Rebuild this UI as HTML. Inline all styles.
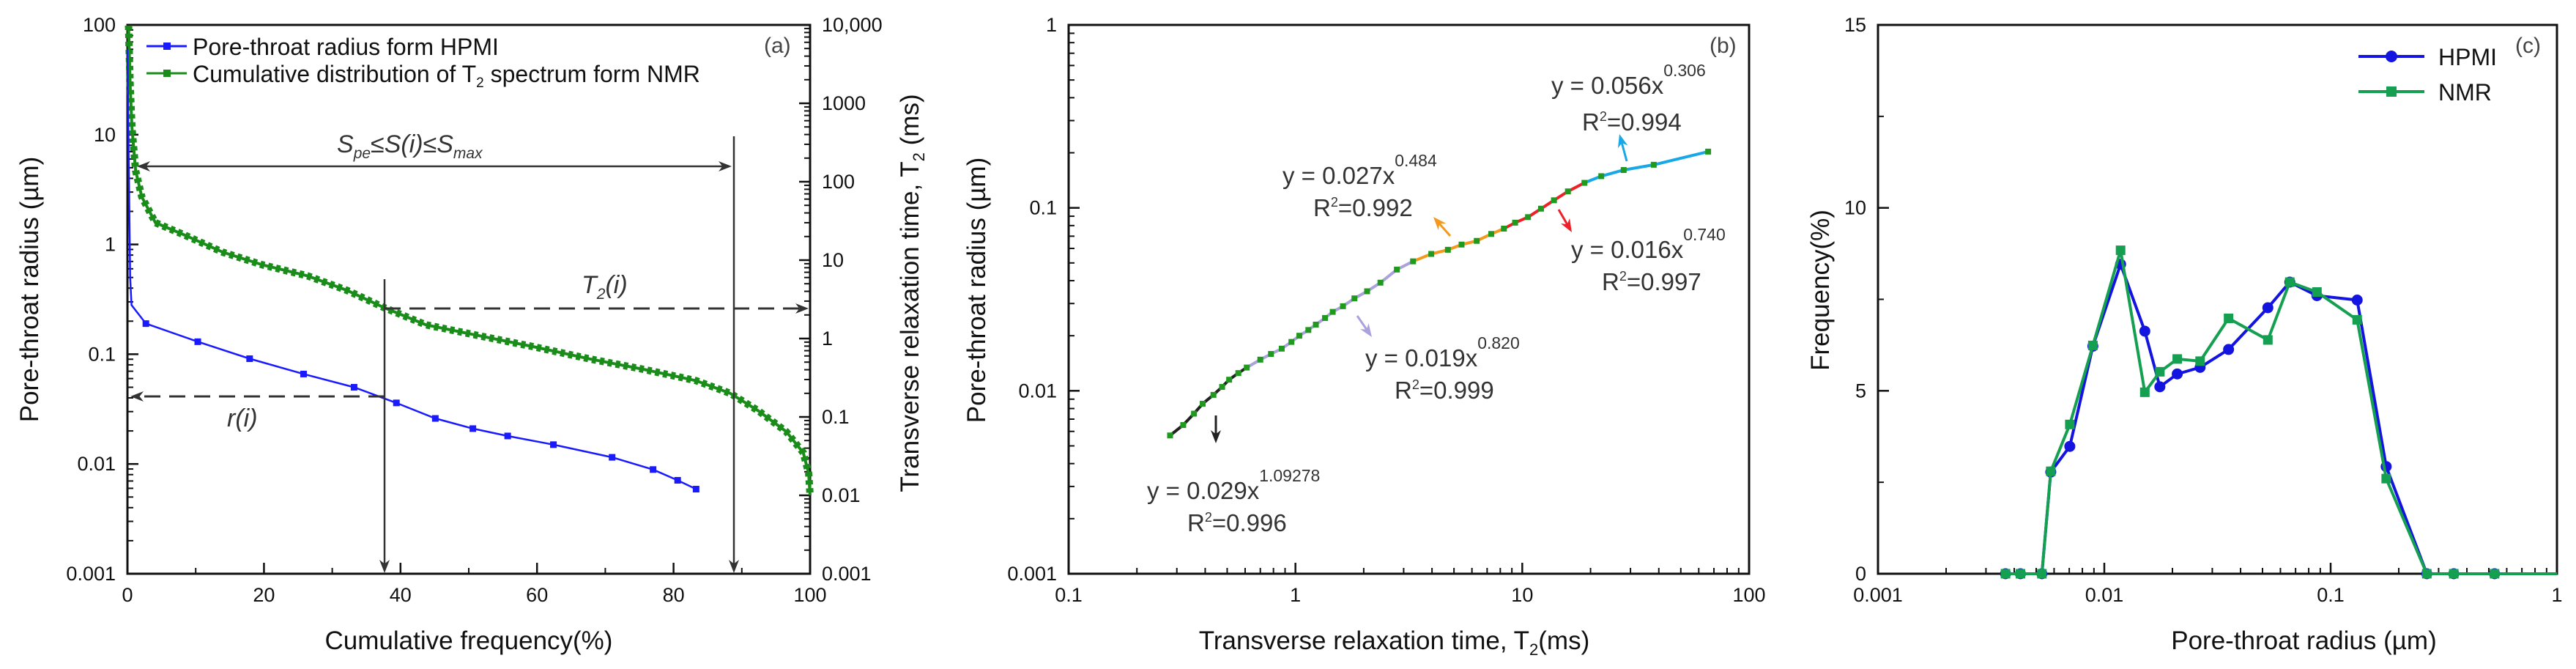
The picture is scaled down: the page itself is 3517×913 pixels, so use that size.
<!DOCTYPE html>
<html><head><meta charset="utf-8"><style>
html,body{margin:0;padding:0;background:#fff;}
svg{display:block;font-family:"Liberation Sans",Arial,sans-serif;}
</style></head><body>
<svg id="fig" width="3517" height="913" viewBox="0 0 3517 913" xmlns="http://www.w3.org/2000/svg"></svg>
<script>
// ---------- Panel (a) data ----------
const hpmiCumFreq = [0, 0.2, 0.4, 0.6, 2.7, 10.3, 17.9, 25.8, 33.2, 39.4, 45.1, 50.6, 55.7, 62.4, 71, 77, 80.6, 83.3];
const hpmiRadius  = [60, 5, 0.5, 0.28, 0.19, 0.13, 0.091, 0.066, 0.050, 0.036, 0.026, 0.021, 0.018, 0.015, 0.0115, 0.0089, 0.0071, 0.0059];
const hpmiMarkIdx = [4,5,6,7,8,9,10,11,12,13,14,15,16,17];
const nmrCumFreq = [0.16, 0.4, 0.66, 1.2, 2.1, 4.1, 8.3, 14, 19.8, 26.4, 32.2, 37.5, 43.7, 51.2, 59.4, 67.7, 75.9, 83.3, 88.3, 92.4, 96.5, 99, 99.8, 100];
const nmrT2 = [9800, 1700, 480, 138, 64, 30, 21, 12.6, 8.7, 6.3, 4.1, 2.5, 1.5, 1.1, 0.79, 0.55, 0.40, 0.29, 0.20, 0.12, 0.065, 0.035, 0.019, 0.01];
const aXTicks = [0, 20, 40, 60, 80, 100];
const aYTicks = ["0.001", "0.01", "0.1", "1", "10", "100"];
const aY2Ticks = ["0.001", "0.01", "0.1", "1", "10", "100", "1000", "10,000"];

// ---------- Panel (b) data ----------
const bT2 = [0.28,0.32,0.357,0.39,0.435,0.475,0.51,0.56,0.61,0.70,0.78,0.87,0.96,1.04,1.14,1.23,1.35,1.46,1.62,1.82,2.07,2.37,2.8,3.3,3.97,4.7,5.4,6.3,7.3,8.3,9.3,10.6,12.1,13.8,15.9,18.8,22.3,28,38,66];
const bRadius = [0.0057,0.0065,0.0075,0.0085,0.0095,0.0105,0.0115,0.0125,0.0134,0.0148,0.0159,0.017,0.0185,0.020,0.0215,0.023,0.025,0.027,0.029,0.032,0.035,0.039,0.046,0.051,0.056,0.059,0.063,0.066,0.072,0.077,0.083,0.089,0.099,0.110,0.123,0.137,0.149,0.161,0.172,0.203];
const bSegStart = [0, 8, 23, 29, 35];
const bSegEnd   = [8, 23, 29, 35, 39];
const bSegColor = ["#222222", "#a9a2dd", "#f39a1e", "#ee2028", "#19a8e6"];
const bXTicks = ["0.1", "1", "10", "100"];
const bYTicks = ["0.001", "0.01", "0.1", "1"];

// ---------- Panel (c) data ----------
const cHpmiR = [0.00366,0.00426,0.0053,0.0058,0.00704,0.0089,0.0118,0.0151,0.0176,0.021,0.0265,0.0354,0.0528,0.066,0.087,0.131,0.176,0.266,0.35,0.53];
const cHpmiF = [0,0,0,2.78,3.48,6.22,8.46,6.63,5.11,5.46,5.64,6.13,7.27,7.97,7.60,7.48,2.93,0,0,0];
const cNmrR = [0.00366,0.00426,0.0053,0.0058,0.00704,0.0089,0.0118,0.0151,0.0176,0.021,0.0265,0.0354,0.0528,0.066,0.087,0.131,0.176,0.266,0.35,0.53,1.0];
const cNmrF = [0,0,0,2.8,4.08,6.24,8.84,4.96,5.52,5.87,5.81,6.98,6.39,7.97,7.70,6.94,2.6,0,0,0,0];
const cXTicks = ["0.001", "0.01", "0.1", "1"];
const cYTicks = [0, 5, 10, 15];

const NS = "http://www.w3.org/2000/svg";
const fig = document.getElementById("fig");
function add(parent, tag, attrs, name, inter) {
  const el = document.createElementNS(NS, tag);
  for (const k in attrs) el.setAttribute(k, attrs[k]);
  
  
  parent.appendChild(el);
  return el;
}
function txt(parent, x, y, s, size, anchor, name, extra) {
  const t = add(parent, "text", Object.assign({x:x, y:y, "font-size":size, "text-anchor":anchor||"start", fill:"#111"}, extra||{}), name);
  t.textContent = s;
  return t;
}
function logScale(lo, hi, p0, p1) { const a=Math.log10(lo), b=Math.log10(hi); return v => p0 + (Math.log10(v)-a)/(b-a)*(p1-p0); }
function linScale(lo, hi, p0, p1) { return v => p0 + (v-lo)/(hi-lo)*(p1-p0); }
function pathD(xs, ys, sx, sy) { return xs.map((v,i)=>(i?"L":"M")+sx(v).toFixed(1)+","+sy(ys[i]).toFixed(1)).join(""); }

const T = 34, B = 783;
const FS = 27, TFS = 35;

function frame(g, L, R, name) {
  add(g, "rect", {x:L, y:T, width:R-L, height:B-T, fill:"none", stroke:"#111", "stroke-width":3}, name);
}
function logYTicks(g, sy, lo, hi, xEdge, dir, labels, labX, anchor, name) {
  for (let d = Math.round(Math.log10(lo)); d <= Math.round(Math.log10(hi)); d++) {
    const v = Math.pow(10, d);
    add(g, "line", {x1:xEdge, x2:xEdge+dir*15, y1:sy(v), y2:sy(v), stroke:"#111", "stroke-width":2.5}, name+"-major-tick");
    if (d < Math.round(Math.log10(hi))) for (let m=2; m<10; m++) {
      add(g, "line", {x1:xEdge, x2:xEdge+dir*8, y1:sy(v*m), y2:sy(v*m), stroke:"#111", "stroke-width":2}, name+"-minor-tick");
    }
  }
  labels.forEach(s => { const v = parseFloat(s.replace(",","")); txt(g, labX, sy(v)+9, s, FS, anchor, name+"-tick-label"); });
}
function logXTicks(g, sx, lo, hi, labels, name) {
  for (let d = Math.round(Math.log10(lo)); d <= Math.round(Math.log10(hi)); d++) {
    const v = Math.pow(10, d);
    add(g, "line", {x1:sx(v), x2:sx(v), y1:B, y2:B-15, stroke:"#111", "stroke-width":2.5}, name+"-major-tick");
    if (d < Math.round(Math.log10(hi))) for (let m=2; m<10; m++) {
      add(g, "line", {x1:sx(v*m), x2:sx(v*m), y1:B, y2:B-8, stroke:"#111", "stroke-width":2}, name+"-minor-tick");
    }
  }
  labels.forEach(s => txt(g, sx(parseFloat(s)), B+38, s, FS, "middle", name+"-tick-label"));
}
function arrowHead(g, x, y, dirx, diry, color, name) {
  const l=18, w=7, px=-diry, py=dirx;
  const pts = [[x,y],[x-dirx*l+px*w, y-diry*l+py*w],[x-dirx*l*0.7,y-diry*l*0.7],[x-dirx*l-px*w, y-diry*l-py*w]];
  add(g, "polygon", {points: pts.map(p=>p.join(",")).join(" "), fill:color}, name);
}
function arrow(g, x1, y1, x2, y2, color, w, name, dash) {
  const dx=x2-x1, dy=y2-y1, len=Math.hypot(dx,dy), ux=dx/len, uy=dy/len;
  const a = {x1:x1, y1:y1, x2:x2-ux*10, y2:y2-uy*10, stroke:color, "stroke-width":w};
  if (dash) a["stroke-dasharray"] = dash;
  add(g, "line", a, name);
  arrowHead(g, x2, y2, ux, uy, color, name+"-head");
}

// ================= Panel (a) =================
(function(){
  const L=174, R=1106;
  const g = add(fig, "g", {}, "panel-a");
  const sx = linScale(0, 100, L, R);
  const sy = logScale(0.001, 100, B, T);
  const sy2 = logScale(0.001, 10000, B, T);
  frame(g, L, R, "panel-a-frame");
  aXTicks.forEach(v => {
    add(g, "line", {x1:sx(v), x2:sx(v), y1:B, y2:B-15, stroke:"#111", "stroke-width":2.5}, "x-major-tick");
    if (v<100) add(g, "line", {x1:sx(v+10), x2:sx(v+10), y1:B, y2:B-8, stroke:"#111", "stroke-width":2}, "x-minor-tick");
    txt(g, sx(v), B+38, String(v), FS, "middle", "x-tick-label");
  });
  logYTicks(g, sy, 0.001, 100, L, 1, aYTicks, L-16, "end", "y-left");
  logYTicks(g, sy2, 0.001, 10000, R, -1, aY2Ticks, R+16, "start", "y-right");
  txt(g, (L+R)/2, 886, "Cumulative frequency(%)", TFS, "middle", "x-axis-title");
  txt(g, 0, 0, "Pore-throat radius (µm)", TFS, "middle", "y-axis-title", {transform:"translate(52,395) rotate(-90)"});
  const t2 = txt(g, 0, 0, "Transverse relaxation time, T", TFS, "middle", "y2-axis-title", {transform:"translate(1254,400) rotate(-90)"});
  const sub = document.createElementNS(NS, "tspan"); sub.setAttribute("font-size","22"); sub.setAttribute("dy","8"); sub.textContent="2"; t2.appendChild(sub);
  const rest = document.createElementNS(NS, "tspan"); rest.setAttribute("dy","-8"); rest.textContent=" (ms)"; t2.appendChild(rest);

  const nd = pathD(nmrCumFreq, nmrT2, sx, sy2);
  add(g, "path", {d:nd, fill:"none", stroke:"#1a8c1a", "stroke-width":4}, "nmr-cumulative-line");
  add(g, "path", {d:nd, fill:"none", stroke:"#1a8c1a", "stroke-width":10, "stroke-dasharray":"6 5"}, "nmr-cumulative-markers");
  add(g, "path", {d:pathD(hpmiCumFreq, hpmiRadius, sx, sy), fill:"none", stroke:"#1a1aff", "stroke-width":2.5}, "hpmi-radius-line");
  hpmiMarkIdx.forEach(i => add(g, "rect", {x:sx(hpmiCumFreq[i])-4.5, y:sy(hpmiRadius[i])-4.5, width:9, height:9, fill:"#1a1aff"}, "hpmi-point"));

  arrow(g, 560, 227, 187, 227, "#333", 2.5, "range-arrow-left");
  arrow(g, 560, 227, 999, 227, "#333", 2.5, "range-arrow-right");
  const st = txt(g, 460, 208, "", 34, "start", "range-label", {"font-style":"italic", fill:"#333"});
  st.innerHTML = 'S<tspan font-size="21" dy="8">pe</tspan><tspan dy="-8">≤S(i)≤S</tspan><tspan font-size="21" dy="8">max</tspan>';
  arrow(g, 1002, 186, 1002, 782, "#333", 2.5, "smax-down-arrow");
  arrow(g, 525, 381, 525, 782, "#333", 2.5, "s-i-down-arrow");
  arrow(g, 525, 421, 1104, 421, "#333", 3, "t2-dashed-arrow", "22 12");
  arrow(g, 525, 541, 178, 541, "#333", 3, "r-dashed-arrow", "22 12");
  const tt = txt(g, 794, 400, "", 34, "start", "t2-i-label", {"font-style":"italic", fill:"#333"});
  tt.innerHTML = 'T<tspan font-size="21" dy="8">2</tspan><tspan dy="-8">(i)</tspan>';
  txt(g, 310, 582, "r(i)", 34, "start", "r-i-label", {"font-style":"italic", fill:"#333"});
  txt(g, 1043, 72, "(a)", 30, "start", "panel-a-label", {fill:"#444"});
  add(g, "line", {x1:200, x2:255, y1:63, y2:63, stroke:"#1a1aff", "stroke-width":3}, "legend-hpmi-line");
  add(g, "rect", {x:223, y:58, width:10, height:10, fill:"#1a1aff"}, "legend-hpmi-marker");
  txt(g, 263, 75, "Pore-throat radius form HPMI", 32, "start", "legend-hpmi-label");
  add(g, "line", {x1:200, x2:255, y1:100, y2:100, stroke:"#1a8c1a", "stroke-width":3}, "legend-nmr-line");
  add(g, "rect", {x:223, y:95, width:10, height:10, fill:"#1a8c1a"}, "legend-nmr-marker");
  const ln = txt(g, 263, 112, "", 32, "start", "legend-nmr-label");
  ln.innerHTML = 'Cumulative distribution of T<tspan font-size="19" dy="7">2</tspan><tspan dy="-7"> spectrum form NMR</tspan>';
})();

// ================= Panel (b) =================
(function(){
  const L=1459, R=2388;
  const g = add(fig, "g", {}, "panel-b");
  const sx = logScale(0.1, 100, L, R);
  const sy = logScale(0.001, 1, B, T);
  frame(g, L, R, "panel-b-frame");
  logXTicks(g, sx, 0.1, 100, bXTicks, "x-b");
  logYTicks(g, sy, 0.001, 1, L, 1, bYTicks, L-16, "end", "y-b");
  const xt = txt(g, (L+R)/2 - 20, 886, "", TFS, "middle", "x-axis-title-b");
  xt.innerHTML = 'Transverse relaxation time, T<tspan font-size="22" dy="8">2</tspan><tspan dy="-8">(ms)</tspan>';
  txt(g, 0, 0, "Pore-throat radius (µm)", TFS, "middle", "y-axis-title-b", {transform:"translate(1345,396) rotate(-90)"});
  for (let s=0; s<bSegStart.length; s++) {
    const xs = bT2.slice(bSegStart[s], bSegEnd[s]+1), ys = bRadius.slice(bSegStart[s], bSegEnd[s]+1);
    add(g, "path", {d:pathD(xs, ys, sx, sy), fill:"none", stroke:bSegColor[s], "stroke-width":4}, "fit-segment-"+s);
  }
  bT2.forEach((v,i) => add(g, "rect", {x:sx(v)-4, y:sy(bRadius[i])-4, width:8, height:8, fill:"#1f9a1f"}, "data-point"));
  function eq(x, y, coef, exp, r2x, r2y, r2, name) {
    const e = txt(g, x, y, "", 33, "start", name+"-equation", {fill:"#333"});
    e.innerHTML = 'y = '+coef+'x<tspan font-size="23" dy="-24">'+exp+'</tspan>';
    const r = txt(g, r2x, r2y, "", 33, "start", name+"-r2", {fill:"#333"});
    r.innerHTML = 'R<tspan font-size="18" dy="-13">2</tspan><tspan dy="13">=' + r2 + '</tspan>';
  }
  eq(2118, 128, "0.056", "0.306", 2160, 178, "0.994", "fit-cyan");
  eq(1751, 251, "0.027", "0.484", 1793, 295, "0.992", "fit-orange");
  eq(2145, 352, "0.016", "0.740", 2187, 396, "0.997", "fit-red");
  eq(1864, 500, "0.019", "0.820", 1904, 544, "0.999", "fit-lavender");
  eq(1566, 681, "0.029", "1.09278", 1621, 725, "0.996", "fit-black");
  arrow(g, 2221, 220, 2211, 183, "#19a8e6", 3, "cyan-arrow");
  arrow(g, 1980, 322, 1957, 296, "#f39a1e", 3, "orange-arrow");
  arrow(g, 2128, 286, 2146, 317, "#ee2028", 3, "red-arrow");
  arrow(g, 1853, 431, 1873, 460, "#a9a2dd", 3, "lavender-arrow");
  arrow(g, 1660, 567, 1660, 605, "#222", 3, "black-arrow");
  txt(g, 2334, 72, "(b)", 30, "start", "panel-b-label", {fill:"#444"});
})();

// ================= Panel (c) =================
(function(){
  const L=2564, R=3491;
  const g = add(fig, "g", {}, "panel-c");
  const sx = logScale(0.001, 1, L, R);
  const sy = linScale(0, 15, B, T);
  frame(g, L, R, "panel-c-frame");
  logXTicks(g, sx, 0.001, 1, cXTicks, "x-c");
  cYTicks.forEach(v => {
    add(g, "line", {x1:L, x2:L+15, y1:sy(v), y2:sy(v), stroke:"#111", "stroke-width":2.5}, "y-c-major-tick");
    if (v<15) add(g, "line", {x1:L, x2:L+8, y1:sy(v+2.5), y2:sy(v+2.5), stroke:"#111", "stroke-width":2}, "y-c-minor-tick");
    txt(g, L-16, sy(v)+9, String(v), FS, "end", "y-c-tick-label");
  });
  txt(g, (L+R)/2 + 118, 886, "Pore-throat radius (µm)", TFS, "middle", "x-axis-title-c");
  txt(g, 0, 0, "Frequency(%)", TFS, "middle", "y-axis-title-c", {transform:"translate(2497,396) rotate(-90)"});
  add(g, "path", {d:pathD(cHpmiR, cHpmiF, sx, sy), fill:"none", stroke:"#1414e0", "stroke-width":4}, "hpmi-frequency-line");
  cHpmiR.forEach((v,i) => add(g, "circle", {cx:sx(v), cy:sy(cHpmiF[i]), r:7.5, fill:"#1414e0"}, "hpmi-frequency-point"));
  add(g, "path", {d:pathD(cNmrR, cNmrF, sx, sy), fill:"none", stroke:"#14a050", "stroke-width":4}, "nmr-frequency-line");
  cNmrR.slice(0, cNmrR.length-1).forEach((v,i) => add(g, "rect", {x:sx(v)-6.5, y:sy(cNmrF[i])-6.5, width:13, height:13, fill:"#14a050"}, "nmr-frequency-point"));
  add(g, "line", {x1:3220, x2:3310, y1:77, y2:77, stroke:"#1414e0", "stroke-width":4}, "legend-hpmi-line");
  add(g, "circle", {cx:3265, cy:77, r:8, fill:"#1414e0"}, "legend-hpmi-marker");
  txt(g, 3329, 89, "HPMI", 32, "start", "legend-hpmi-label");
  add(g, "line", {x1:3220, x2:3310, y1:125, y2:125, stroke:"#14a050", "stroke-width":4}, "legend-nmr-line");
  add(g, "rect", {x:3258, y:118, width:14, height:14, fill:"#14a050"}, "legend-nmr-marker");
  txt(g, 3329, 137, "NMR", 32, "start", "legend-nmr-label");
  txt(g, 3434, 72, "(c)", 30, "start", "panel-c-label", {fill:"#444"});
})();
</script>
</body></html>
